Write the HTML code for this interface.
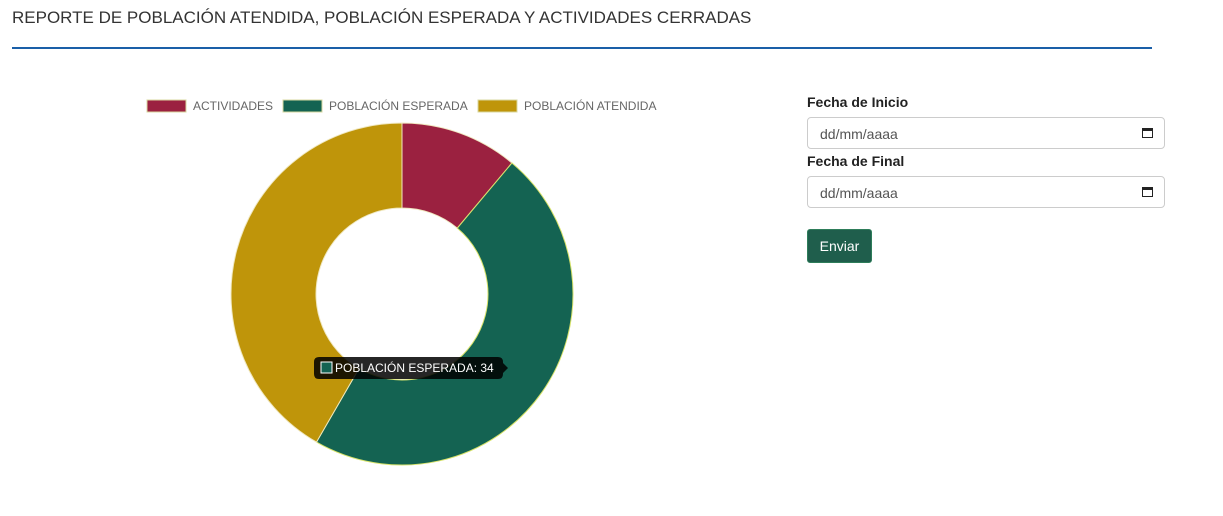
<!DOCTYPE html>
<html><head><meta charset="utf-8"><style>
body{margin:0;width:1223px;height:516px;background:#fff;font-family:"Liberation Sans",Arial,sans-serif;position:relative;overflow:hidden}
.t{position:absolute;left:12px;top:8px;font-size:17px;color:#333}
.hr{position:absolute;left:12px;top:47px;width:1140px;height:2px;background:#1a5fa8}
.lbl{position:absolute;left:807px;font-size:14px;font-weight:bold;color:#222}
.inp{position:absolute;left:807px;width:358px;height:32px;border:1px solid #ccc;border-radius:4px;box-sizing:border-box;font-size:14px;color:#555;padding:8px 12px}
.cal{position:absolute;right:11px;top:10px;width:11px;height:10px;border:1.5px solid #222;border-top-width:3px;box-sizing:border-box}
.btn{position:absolute;left:807px;top:229px;width:65px;height:34px;background:#1f5e4c;border:1px solid #2e7d5a;border-radius:3px;color:#fff;font-size:14px;box-sizing:border-box;text-align:center;line-height:32px}
</style></head><body>
<div class="t">REPORTE DE POBLACIÓN ATENDIDA, POBLACIÓN ESPERADA Y ACTIVIDADES CERRADAS</div>
<div class="hr"></div>
<svg id="chart" width="760" height="516" style="position:absolute;left:0;top:0"></svg>
<div class="lbl" style="top:94px">Fecha de Inicio</div>
<div class="inp" style="top:117px">dd/mm/aaaa<span class="cal"></span></div>
<div class="lbl" style="top:153px">Fecha de Final</div>
<div class="inp" style="top:176px">dd/mm/aaaa<span class="cal"></span></div>
<div class="btn">Enviar</div>
<script>
const categories=["ACTIVIDADES","POBLACIÓN ESPERADA","POBLACIÓN ATENDIDA"];
const values=[8,34,30];
const colors=["#9b2140","#146352","#bf950a"];
const ns="http://www.w3.org/2000/svg";
const svg=document.getElementById('chart');
const cx=402,cy=294,R=171,r=86;
const total=values.reduce((a,b)=>a+b,0);
function pt(a,rad){return [cx+rad*Math.sin(a),cy-rad*Math.cos(a)];}
let a0=0;
values.forEach((v,i)=>{
 const a1=a0+v/total*2*Math.PI;
 const large=(a1-a0)>Math.PI?1:0;
 const [x0,y0]=pt(a0,R),[x1,y1]=pt(a1,R),[x2,y2]=pt(a1,r),[x3,y3]=pt(a0,r);
 const p=document.createElementNS(ns,'path');
 p.setAttribute('d',`M${x0},${y0}A${R},${R} 0 ${large} 1 ${x1},${y1}L${x2},${y2}A${r},${r} 0 ${large} 0 ${x3},${y3}Z`);
 p.setAttribute('fill',colors[i]);
 p.setAttribute('stroke',i==1?'#d8e36a':'#f0e8c0');
 p.setAttribute('stroke-width','1');
 
 
 svg.appendChild(p);
 a0=a1;
});
// legend
const lx=[147,283,478];
categories.forEach((c,i)=>{
 const g=document.createElementNS(ns,'g');
 
 
 const b=document.createElementNS(ns,'rect');
 b.setAttribute('x',lx[i]);b.setAttribute('y',100);b.setAttribute('width',39);b.setAttribute('height',12);
 b.setAttribute('fill',colors[i]);b.setAttribute('stroke','#d8d8a0');
 g.appendChild(b);
 const t=document.createElementNS(ns,'text');
 t.setAttribute('x',lx[i]+46);t.setAttribute('y',110);
 t.setAttribute('font-size','12');t.setAttribute('fill','#666');
 t.setAttribute('font-family','Liberation Sans, sans-serif');
 t.textContent=c;
 g.appendChild(t);
 svg.appendChild(g);
});
// tooltip
const tg=document.createElementNS(ns,'g');


const tr=document.createElementNS(ns,'path');
tr.setAttribute('d','M319,357H498Q503,357 503,362V363L508,368L503,373V374Q503,379 498,379H319Q314,379 314,374V362Q314,357 319,357Z');
tr.setAttribute('fill','rgba(0,0,0,0.85)');
tg.appendChild(tr);
const sq=document.createElementNS(ns,'rect');
sq.setAttribute('x',321);sq.setAttribute('y',362);sq.setAttribute('width',11);sq.setAttribute('height',11);
sq.setAttribute('fill',colors[1]);sq.setAttribute('stroke','#fff');
tg.appendChild(sq);
const tt=document.createElementNS(ns,'text');
tt.setAttribute('x',335);tt.setAttribute('y',372);tt.setAttribute('font-size','12');tt.setAttribute('fill','#fff');
tt.setAttribute('font-family','Liberation Sans, sans-serif');
tt.textContent=categories[1]+': '+values[1];
tg.appendChild(tt);
svg.appendChild(tg);
</script>
</body></html>
